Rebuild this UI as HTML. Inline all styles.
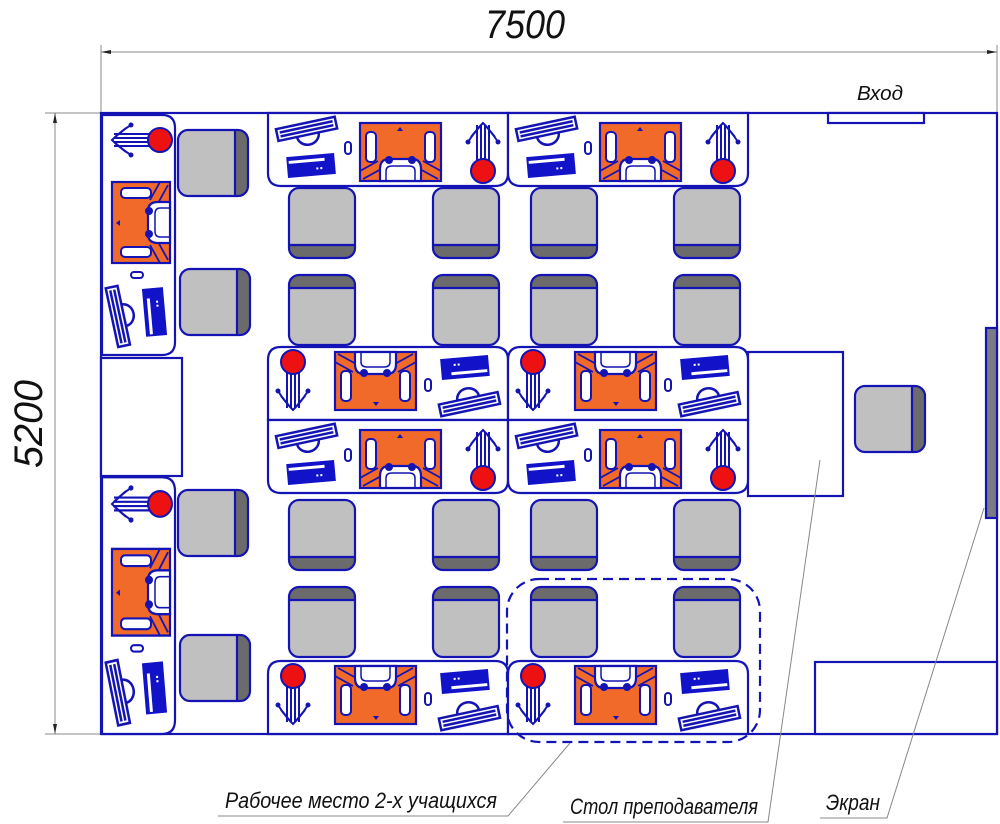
<!DOCTYPE html>
<html><head><meta charset="utf-8"><style>
html,body{margin:0;padding:0;background:#fff;}
svg{display:block;}
text{font-family:"Liberation Sans Narrow","Liberation Sans",sans-serif;font-style:italic;fill:#111;}
</style></head><body>
<svg width="1000" height="824" viewBox="0 0 1000 824" xmlns="http://www.w3.org/2000/svg">
<defs>
<g id="d">
  <path d="M0,0 V60 Q0,73 13,73 H227 Q240,73 240,60 V0 Z" fill="#fff" stroke="#1414b4" stroke-width="2.2"/>
  <g transform="rotate(-12 38 18)" stroke="#1414b4" stroke-width="2.5" fill="none">
    <path d="M28,22 a11,10 0 0 0 22,0" />
    <rect x="9" y="10" width="60" height="12" fill="#fff"/>
    <line x1="12" y1="14" x2="66" y2="14"/>
    <line x1="12" y1="18" x2="66" y2="18"/>
  </g>
  <g transform="rotate(-5 43 52)">
    <rect x="19" y="42" width="48" height="21" fill="#1212c8"/>
    <rect x="21" y="46" width="36" height="3" fill="#fff"/>
    <rect x="48" y="55" width="2" height="2" fill="#fff"/><rect x="52" y="55" width="2" height="2" fill="#fff"/>
  </g>
  <rect x="77" y="29" width="6" height="12" rx="3" fill="#fff" stroke="#1414b4" stroke-width="2"/>
  <rect x="92" y="10" width="81" height="58" fill="#f26a2a" stroke="#1414b4" stroke-width="2.2"/>
  <rect x="98" y="19" width="10" height="30" rx="4" fill="#fff" stroke="#1414b4" stroke-width="2"/>
  <rect x="157" y="19" width="10" height="30" rx="4" fill="#fff" stroke="#1414b4" stroke-width="2"/>
  <path d="M92,58 L110,48 M173,58 L155,48 M95,66 L115,55 M170,66 L150,55" stroke="#1414b4" stroke-width="1.8" fill="none"/>
  <path d="M112,68 V56 Q112,46 121,46 H144 Q153,46 153,56 V68 Z" fill="#fff" stroke="#1414b4" stroke-width="2.2"/>
  <path d="M118,68 V58 Q118,53 124,53 H141 Q147,53 147,58 V68" fill="none" stroke="#1414b4" stroke-width="1.5"/>
  <circle cx="121" cy="47" r="4" fill="#1414b4"/><circle cx="144" cy="47" r="4" fill="#1414b4"/>
  <path d="M132,14 l-3,4 h6 z" fill="#1414b4"/>
  <g stroke="#1414b4" stroke-width="2" fill="none">
    <line x1="209" y1="12" x2="209" y2="50"/><line x1="213" y1="12" x2="213" y2="50"/>
    <line x1="217" y1="12" x2="217" y2="50"/><line x1="221" y1="12" x2="221" y2="50"/>
    <path d="M200,29 Q207,18 215,10 Q223,18 230,29"/>
    <path d="M203,24 L213,12 M227,24 L217,12"/>
  </g>
  <circle cx="200" cy="29" r="2.5" fill="#1414b4"/><circle cx="230" cy="29" r="2.5" fill="#1414b4"/>
  <circle cx="215" cy="58" r="12" fill="#ee1111" stroke="#1414b4" stroke-width="2"/>
</g>
<g id="c">
  <rect x="0" y="0" width="66" height="70" rx="10" fill="#6b6b6b"/>
  <path d="M0,57 V10 Q0,0 10,0 H56 Q66,0 66,10 V57 Z" fill="#c0c0c0"/>
  <line x1="0" y1="57" x2="66" y2="57" stroke="#1414b4" stroke-width="2.2"/>
  <rect x="0" y="0" width="66" height="70" rx="10" fill="none" stroke="#1414b4" stroke-width="2.2"/>
</g>
</defs>

<!-- dimensions -->
<g stroke="#888" stroke-width="1" fill="none">
  <line x1="101" y1="45" x2="101" y2="112"/><line x1="997" y1="45" x2="997" y2="112"/>
  <line x1="101" y1="52" x2="997" y2="52"/>
  <line x1="45" y1="113" x2="101" y2="113"/><line x1="45" y1="734" x2="101" y2="734"/>
  <line x1="55" y1="113" x2="55" y2="734"/>
</g>
<path d="M101,52 l10,-2 v4z M997,52 l-10,-2 v4z M55,113 l-2,10 h4z M55,734 l-2,-10 h4z" fill="#222"/>
<text x="485" y="38" font-size="40" textLength="80" lengthAdjust="spacingAndGlyphs">7500</text>
<text transform="translate(42,468) rotate(-90)" font-size="40" textLength="88" lengthAdjust="spacingAndGlyphs">5200</text>

<!-- room -->
<rect x="101" y="113" width="896" height="621" fill="#fff" stroke="#1414b4" stroke-width="2.2"/>
<rect x="828" y="113" width="96" height="10" fill="#fff" stroke="#1414b4" stroke-width="2.2"/>
<text x="857" y="100" font-size="20" textLength="46" lengthAdjust="spacingAndGlyphs">Вход</text>
<rect x="101" y="358" width="81" height="118" fill="#fff" stroke="#1414b4" stroke-width="2.2"/>
<rect x="748" y="352" width="95" height="144" fill="#fff" stroke="#1414b4" stroke-width="2.2"/>
<rect x="815" y="662" width="182" height="72" fill="#fff" stroke="#1414b4" stroke-width="2.2"/>
<rect x="986" y="328" width="11" height="190" fill="#7b7b84" stroke="#1414b4" stroke-width="2.2"/>

<!-- desks -->
<use href="#d" transform="translate(268,113)"/>
<use href="#d" transform="translate(508,113)"/>
<use href="#d" transform="translate(508,420) rotate(180)"/>
<use href="#d" transform="translate(748,420) rotate(180)"/>
<use href="#d" transform="translate(268,420)"/>
<use href="#d" transform="translate(508,420)"/>
<use href="#d" transform="translate(508,734) rotate(180)"/>
<use href="#d" transform="translate(748,734) rotate(180)"/>
<use href="#d" transform="translate(102,355) rotate(-90)"/>
<use href="#d" transform="translate(102,734) rotate(-90) scale(1.07,1)"/>

<!-- chairs -->
<use href="#c" transform="translate(289,188)"/>
<use href="#c" transform="translate(433,188)"/>
<use href="#c" transform="translate(531,188)"/>
<use href="#c" transform="translate(674,188)"/>
<use href="#c" transform="translate(355,345) rotate(180)"/>
<use href="#c" transform="translate(499,345) rotate(180)"/>
<use href="#c" transform="translate(597,345) rotate(180)"/>
<use href="#c" transform="translate(740,345) rotate(180)"/>
<use href="#c" transform="translate(289,500)"/>
<use href="#c" transform="translate(433,500)"/>
<use href="#c" transform="translate(531,500)"/>
<use href="#c" transform="translate(674,500)"/>
<use href="#c" transform="translate(355,657) rotate(180)"/>
<use href="#c" transform="translate(499,657) rotate(180)"/>
<use href="#c" transform="translate(597,657) rotate(180)"/>
<use href="#c" transform="translate(740,657) rotate(180)"/>
<use href="#c" transform="translate(178,196) rotate(-90)"/>
<use href="#c" transform="translate(180,335) rotate(-90)"/>
<use href="#c" transform="translate(178,556) rotate(-90)"/>
<use href="#c" transform="translate(180,701) rotate(-90)"/>
<use href="#c" transform="translate(855,452) rotate(-90)"/>

<!-- dashed group -->
<rect x="507" y="579" width="253" height="163" rx="32" fill="none" stroke="#1414b4" stroke-width="2.2" stroke-dasharray="10,6"/>

<!-- leaders -->
<g stroke="#888" stroke-width="1" fill="none">
  <path d="M218,816 H508 L570,743"/>
  <path d="M563,822 H768 L820,460"/>
  <path d="M820,818 H887 L984,508"/>
</g>
<text x="225" y="808" font-size="22" textLength="272" lengthAdjust="spacingAndGlyphs">Рабочее место 2-х учащихся</text>
<text x="570" y="814" font-size="22" textLength="188" lengthAdjust="spacingAndGlyphs">Стол преподавателя</text>
<text x="826" y="810" font-size="22" textLength="54" lengthAdjust="spacingAndGlyphs">Экран</text>
</svg>
</body></html>
